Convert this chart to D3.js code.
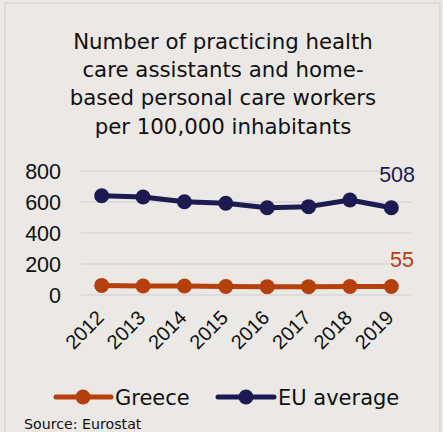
<!DOCTYPE html>
<html><head><meta charset="utf-8">
<script src="https://cdn.jsdelivr.net/npm/d3@7"></script>
<style>html,body{margin:0;padding:0;background:#ebe8e5;}svg{display:block;}</style>
</head><body>
<script>
const years = ["2012","2013","2014","2015","2016","2017","2018","2019"];
const greece = [62, 58, 58, 55, 54, 54, 55, 55];
const euAverage = [640, 632, 602, 592, 563, 570, 613, 563];
const yTicks = [0, 200, 400, 600, 800];
const titleLines = ["Number of practicing health","care assistants and home-","based personal care workers","per 100,000 inhabitants"];
const seriesNames = ["Greece", "EU average"];
const endLabels = ["55", "508"];
const source = "Source: Eurostat";

const W = 443, H = 432;
const cGreece = "#b5400b", cEU = "#1c1a50";
const titleFont = "'DejaVu Sans', sans-serif";
const numFont = "'Liberation Sans', Arial, sans-serif";

const svg = d3.select("body").append("svg").attr("width", W).attr("height", H);
svg.append("rect").attr("width", W).attr("height", H).attr("fill", "#ebe8e5");
svg.append("path").attr("d", `M5,${H} V3 H440 V${H}`).attr("fill","none").attr("stroke","#dadada").attr("stroke-width",2);

svg.append("text").attr("x", 223).attr("font-family", titleFont).attr("font-size", 21.3)
  .attr("fill", "#111").attr("text-anchor","middle")
  .selectAll("tspan").data(titleLines).join("tspan")
  .attr("x", 223).attr("y", (d,i)=>49 + i*28.2).text(d=>d);

const x = d3.scalePoint().domain(years).range([81, 412]).padding(0.5);
const y = d3.scaleLinear().domain([0, 800]).range([295, 171]);

svg.append("g").selectAll("line").data(yTicks).join("line")
  .attr("x1", 81).attr("x2", 412).attr("y1", d=>y(d)).attr("y2", d=>y(d))
  .attr("stroke", "#d9d9d9").attr("stroke-width", 1.5);

const yAxis = svg.append("g").attr("transform","translate(61,0)")
  .call(d3.axisLeft(y).tickValues(yTicks).tickSize(0).tickPadding(0));
yAxis.select(".domain").remove();
yAxis.selectAll("text").attr("font-family", numFont).attr("font-size", 21.5).attr("fill","#111").attr("dy","0.36em");

const xAxis = svg.append("g").attr("transform","translate(0,295)")
  .call(d3.axisBottom(x).tickSize(0).tickPadding(0));
xAxis.select(".domain").remove();
xAxis.selectAll("text").attr("font-family", numFont).attr("font-size", 20).attr("fill","#111")
  .attr("text-anchor","end").attr("dy", null).attr("y", 0)
  .attr("transform", "translate(3,24) rotate(-45)");

const line = d3.line().x((d,i)=>x(years[i])).y(d=>y(d));
const series = [{vals: greece, color: cGreece}, {vals: euAverage, color: cEU}];
series.forEach(s=>{
  svg.append("path").datum(s.vals).attr("d", line).attr("fill","none")
    .attr("stroke", s.color).attr("stroke-width", 5).attr("stroke-linejoin","round");
  svg.append("g").selectAll("circle").data(s.vals).join("circle")
    .attr("cx",(d,i)=>x(years[i])).attr("cy", d=>y(d)).attr("r", 7.5).attr("fill", s.color);
});

svg.append("text").attr("x", 415).attr("y", 182).attr("text-anchor","end")
  .attr("font-family", numFont).attr("font-size", 21.5).attr("fill", cEU).text(endLabels[1]);
svg.append("text").attr("x", 414).attr("y", 267).attr("text-anchor","end")
  .attr("font-family", numFont).attr("font-size", 21.5).attr("fill", cGreece).text(endLabels[0]);

const leg = [{x1:56, x2:111, cx:83, tx:115}, {x1:218, x2:274, cx:246, tx:278}];
leg.forEach((l,i)=>{
  const c = i===0 ? cGreece : cEU;
  svg.append("line").attr("x1", l.x1).attr("x2", l.x2).attr("y1", 397).attr("y2", 397)
    .attr("stroke", c).attr("stroke-width", 5).attr("stroke-linecap","round");
  svg.append("circle").attr("cx", l.cx).attr("cy", 397).attr("r", 7.5).attr("fill", c);
  svg.append("text").attr("x", l.tx).attr("y", 405).attr("font-family", titleFont)
    .attr("font-size", 21).attr("fill","#111").text(seriesNames[i]);
});

svg.append("text").attr("x", 24).attr("y", 429).attr("font-family", titleFont)
  .attr("font-size", 14.2).attr("fill","#111").text(source);
</script>
</body></html>
